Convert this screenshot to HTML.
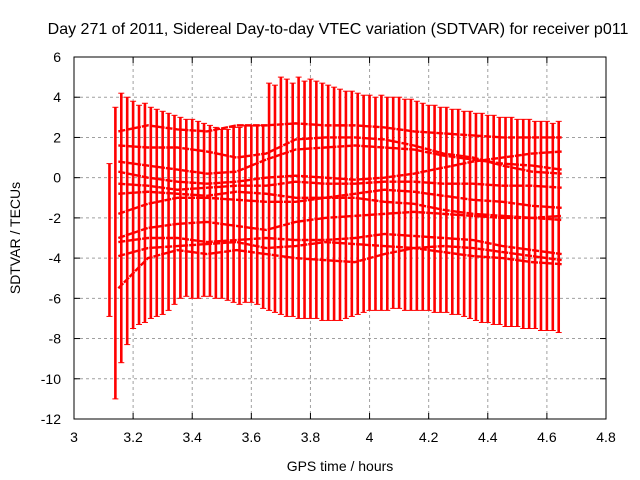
<!DOCTYPE html>
<html><head><meta charset="utf-8"><style>
body{margin:0;background:#fff}
svg{display:block;font-family:"Liberation Sans",sans-serif}
</style></head><body>
<svg id="c" width="640" height="480">
<text x="338" y="34" font-size="16" text-anchor="middle">Day 271 of 2011, Sidereal Day-to-day VTEC variation (SDTVAR) for receiver p011</text>
<text x="340" y="471" font-size="14" text-anchor="middle">GPS time / hours</text>
<text transform="translate(20,238) rotate(-90)" font-size="14" text-anchor="middle">SDTVAR / TECUs</text>
<g id="grid"></g>
<g id="bars"></g>
<g id="series"></g>
<rect x="74" y="57" width="532" height="362" fill="none" stroke="#000" stroke-width="1"/>
<g id="ticks"></g>
</svg>
<script>
const xTicks=[3,3.2,3.4,3.6,3.8,4,4.2,4.4,4.6,4.8];
const yTicks=[6,4,2,0,-2,-4,-6,-8,-10,-12];
const barStart=3.12, barStep=0.02;
const envTop=[0.7,3.5,4.2,4.0,3.8,3.6,3.7,3.5,3.4,3.3,3.2,3.1,3.0,2.9,2.9,2.8,2.7,2.6,2.5,2.4,2.4,2.5,2.5,2.6,2.6,2.6,2.6,4.7,4.6,5.0,4.9,4.7,5.0,4.8,4.9,4.8,4.7,4.6,4.5,4.4,4.3,4.3,4.2,4.1,4.1,4.0,4.1,4.0,4.0,4.0,3.9,3.9,3.8,3.7,3.6,3.6,3.5,3.5,3.4,3.4,3.3,3.3,3.2,3.2,3.1,3.1,3.0,3.0,3.0,2.9,2.9,2.9,2.8,2.8,2.8,2.7,2.8];
const envBot=[-6.9,-11.0,-9.2,-8.3,-7.5,-7.3,-7.2,-7.0,-6.9,-6.8,-6.6,-6.3,-6.0,-5.9,-6.0,-6.0,-5.9,-5.9,-6.0,-6.0,-6.1,-6.2,-6.3,-6.2,-6.2,-6.3,-6.5,-6.6,-6.7,-6.8,-6.9,-6.9,-7.0,-7.0,-7.0,-7.0,-7.1,-7.1,-7.1,-7.1,-7.0,-6.9,-6.8,-6.7,-6.6,-6.6,-6.6,-6.6,-6.5,-6.5,-6.6,-6.6,-6.6,-6.6,-6.6,-6.7,-6.7,-6.7,-6.8,-6.8,-6.9,-7.0,-7.1,-7.2,-7.2,-7.3,-7.3,-7.4,-7.4,-7.4,-7.5,-7.5,-7.5,-7.6,-7.6,-7.6,-7.7];
const seriesTimes=[3.15,3.25,3.35,3.45,3.55,3.65,3.75,3.85,3.95,4.05,4.15,4.25,4.35,4.45,4.55,4.65];
const sA=[2.3,2.6,2.4,2.3,2.6,2.6,2.7,2.6,2.6,2.5,2.3,2.2,2.1,2.0,2.0,2.0];
const sB=[1.6,1.5,1.5,1.3,1.0,1.2,1.9,2.0,2.0,1.9,1.6,1.2,1.0,0.6,0.3,0.2];
const sC=[0.8,0.6,0.4,0.2,0.3,0.9,1.4,1.5,1.6,1.5,1.4,1.1,0.9,0.7,0.6,0.4];
const sD=[0.3,0.0,-0.2,-0.3,-0.2,0.0,0.1,0.0,-0.1,0.0,0.2,0.5,0.8,1.0,1.2,1.3];
const sE=[-0.3,-0.4,-0.6,-0.5,-0.4,-0.4,-0.2,-0.3,-0.3,-0.2,-0.2,-0.3,-0.3,-0.4,-0.4,-0.5];
const sF=[-0.8,-0.7,-0.8,-0.9,-0.7,-0.8,-1.0,-1.0,-0.8,-0.6,-0.7,-0.9,-1.1,-1.2,-1.4,-1.5];
const sG=[-1.8,-1.3,-1.0,-1.0,-1.1,-1.2,-1.2,-1.0,-1.0,-1.2,-1.3,-1.6,-1.8,-1.9,-2.0,-2.1];
const sH=[-3.0,-2.5,-2.3,-2.2,-2.4,-2.6,-2.2,-2.0,-1.9,-1.8,-1.7,-1.8,-1.9,-2.0,-2.0,-1.9];
const sI=[-3.2,-3.0,-3.0,-3.2,-3.1,-3.0,-3.1,-3.1,-3.0,-2.8,-2.9,-3.0,-3.1,-3.4,-3.6,-3.8];
const sJ=[-3.9,-3.5,-3.4,-3.3,-3.2,-3.5,-3.4,-3.2,-3.3,-3.4,-3.5,-3.7,-3.9,-4.0,-4.2,-4.3];
const sK=[-5.5,-4.0,-3.6,-3.8,-3.6,-3.8,-4.0,-4.1,-4.2,-3.8,-3.5,-3.4,-3.5,-3.7,-3.9,-4.1];
const allSeries=[sA,sB,sC,sD,sE,sF,sG,sH,sI,sJ,sK];

const NS="http://www.w3.org/2000/svg";
const X=v=>74+(v-3)/1.8*532;
const Y=v=>57+(6-v)/18*362;
function mk(tag,parent,attrs){const e=document.createElementNS(NS,tag);for(const k in attrs)e.setAttribute(k,attrs[k]);parent.appendChild(e);return e;}
const grid=document.getElementById('grid'),ticks=document.getElementById('ticks'),bars=document.getElementById('bars'),ser=document.getElementById('series');
xTicks.forEach(t=>{const x=X(t);
 if(t>3&&t<4.8){const g=mk('line',grid,{x1:x,x2:x,y1:57,y2:419,stroke:'#a0a0a0','stroke-dasharray':'3,3'});
 
 }
 mk('line',ticks,{x1:x,x2:x,y1:419,y2:413,stroke:'#000'});mk('line',ticks,{x1:x,x2:x,y1:57,y2:63,stroke:'#000'});
 const l=mk('text',ticks,{x:x,y:442,'font-size':14,'text-anchor':'middle'});l.textContent=String(t);
 
 });
yTicks.forEach(t=>{const y=Y(t);
 if(t<6&&t>-12){const g=mk('line',grid,{x1:74,x2:606,y1:y,y2:y,stroke:'#a0a0a0','stroke-dasharray':'3,3'});
 
 }
 mk('line',ticks,{x1:74,x2:80,y1:y,y2:y,stroke:'#000'});mk('line',ticks,{x1:606,x2:600,y1:y,y2:y,stroke:'#000'});
 const l=mk('text',ticks,{x:61,y:y+5,'font-size':14,'text-anchor':'end'});l.textContent=String(t);
 
 });
envTop.forEach((tv,i)=>{const x=X(barStart+i*barStep),yt=Y(tv),yb=Y(envBot[i]);
 const b=mk('line',bars,{x1:x,x2:x,y1:yt,y2:yb,stroke:'#f00','stroke-width':2.6});
 
 
 mk('line',bars,{x1:x-3,x2:x+3,y1:yt,y2:yt,stroke:'#f00','stroke-width':1});
 mk('line',bars,{x1:x-3,x2:x+3,y1:yb,y2:yb,stroke:'#f00','stroke-width':1});});
allSeries.forEach((s,k)=>{const pts=s.map((v,i)=>X(seriesTimes[i])+','+Y(v)).join(' ');
 const p=mk('polyline',ser,{points:pts,fill:'none',stroke:'#f00','stroke-width':2.4,'stroke-dasharray':'7,1'});
 
 });
</script>
</body></html>
